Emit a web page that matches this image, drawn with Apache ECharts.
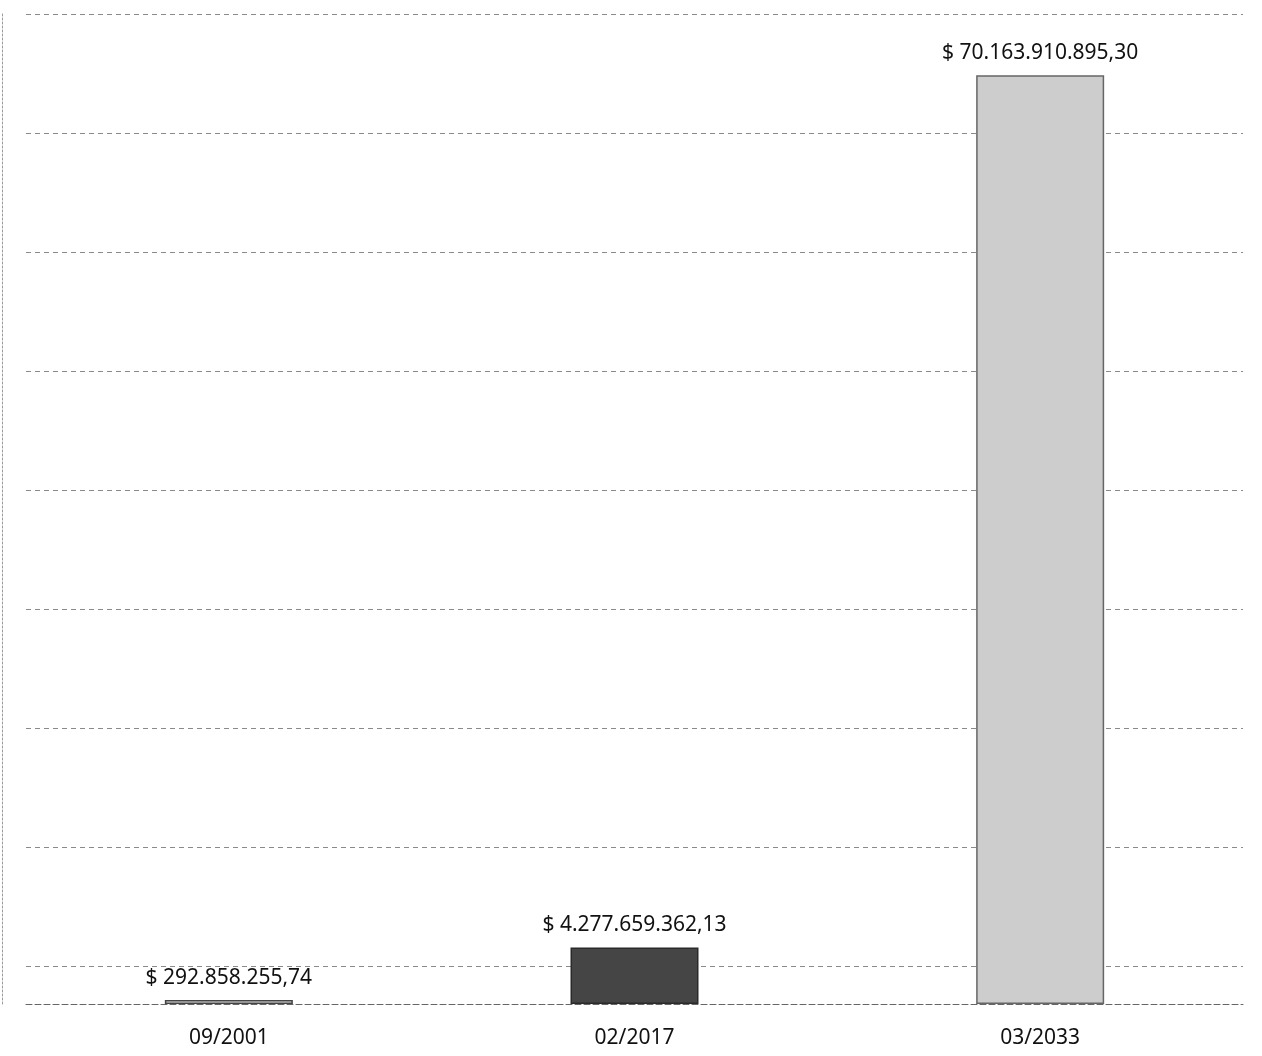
<!DOCTYPE html>
<html>
<head>
<meta charset="utf-8">
<script src="https://cdn.jsdelivr.net/npm/echarts@6/dist/echarts.min.js"></script>
<style>
html,body{margin:0;padding:0;background:#fff;}
#chart{width:1262px;height:1056px;}
</style>
</head>
<body>
<div id="chart"></div>
<script>
var categories = ['09/2001', '02/2017', '03/2033'];
var values = [292858255.74, 4277659362.13, 70163910895.30];
var barFills = ['#e6e6e6', '#454545', '#cdcdcd'];
var barBorders = ['#444444', '#2a2a2a', '#666666'];

function fmt(v) {
  var parts = v.toFixed(2).split('.');
  var intPart = parts[0].replace(/\B(?=(\d{3})+(?!\d))/g, '.');
  return '$ ' + intPart + ',' + parts[1];
}

var chart = echarts.init(document.getElementById('chart'));
var font = '"Noto Sans", sans-serif';
chart.setOption({
  animation: false,
  grid: { left: 26, right: 19, top: 14, bottom: 52 },
  xAxis: {
    type: 'category',
    data: categories,
    axisLine: { show: true, lineStyle: { color: '#666', width: 1, type: [6, 3] } },
    axisTick: { show: false },
    axisLabel: { color: '#111', fontSize: 21, fontFamily: font, margin: 24 }
  },
  yAxis: [
    { type: 'value', min: 0, max: 74.8e9, show: true,
      axisLine: { show: false }, axisTick: { show: false }, axisLabel: { show: false },
      splitLine: { show: false } },
    { type: 'value', min: 0, max: 8.32, interval: 1, inverse: true, position: 'left', offset: 24,
      axisLine: { show: true, lineStyle: { color: '#999', type: [2, 2], width: 1 } },
      axisTick: { show: false }, axisLabel: { show: false },
      splitLine: { show: true, lineStyle: { color: '#8a8a8a', type: [5, 4], width: 1 } } }
  ],
  series: [{
    type: 'bar',
    yAxisIndex: 0,
    barWidth: 128,
    data: values.map(function (v, i) {
      return { value: v, itemStyle: { color: barFills[i], borderColor: barBorders[i], borderWidth: 1.5 } };
    }),
    label: {
      show: true, position: 'top', distance: 12,
      color: '#111', fontSize: 21, fontFamily: font,
      formatter: function (p) { return fmt(p.value); }
    }
  }]
});
</script>
</body>
</html>
